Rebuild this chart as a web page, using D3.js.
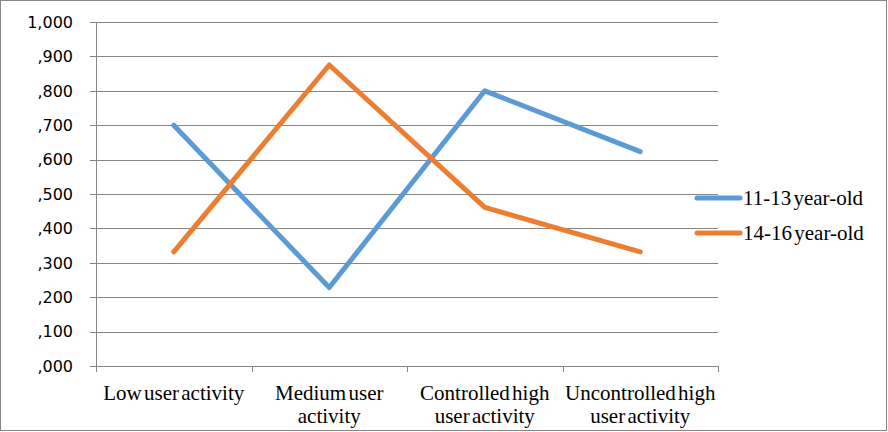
<!DOCTYPE html>
<html>
<head>
<meta charset="utf-8">
<script src="https://cdn.jsdelivr.net/npm/d3@7"></script>
<style>
  body { margin: 0; background: #fff; }
  svg { display: block; }
</style>
</head>
<body>
<svg width="888" height="432"></svg>
<script>
// chart data
var categories = [["Low user activity"], ["Medium user", "activity"], ["Controlled high", "user activity"], ["Uncontrolled high", "user activity"]];
var seriesNames = ["11-13 year-old", "14-16 year-old"];
var youngerValues = [0.700, 0.228, 0.800, 0.623];
var olderValues = [0.332, 0.875, 0.461, 0.332];
var yTicks = [0, 0.1, 0.2, 0.3, 0.4, 0.5, 0.6, 0.7, 0.8, 0.9, 1.0];
var colors = ["#5B9BD5", "#ED7D31"];

var serifFont = "'Liberation Serif', 'Times New Roman', serif";
var svg = d3.select("svg");
var plotLeft = 96, plotRight = 718, plotTop = 22, plotBottom = 366;

// outer frame
svg.append("rect")
    .attr("x", 0.5).attr("y", 0.5)
    .attr("width", 886).attr("height", 430)
    .attr("fill", "none").attr("stroke", "#868686");

var x = d3.scaleBand()
    .domain(d3.range(categories.length))
    .range([plotLeft, plotRight]);

var y = d3.scaleLinear()
    .domain([0, 1])
    .range([plotBottom, plotTop]);

function fmt(v) {
    if (v >= 1) return "1,000";
    return "," + d3.format("03d")(Math.round(v * 1000));
}

// grid lines
svg.append("g")
    .selectAll("line")
    .data(yTicks)
    .enter()
    .append("line")
    .attr("x1", plotLeft - 6)
    .attr("x2", plotRight)
    .attr("y1", function(d) { return Math.round(y(d)) + 0.5; })
    .attr("y2", function(d) { return Math.round(y(d)) + 0.5; })
    .attr("stroke", "#868686")
    .attr("stroke-width", 1);

// y tick labels
svg.append("g")
    .selectAll("text")
    .data(yTicks)
    .enter()
    .append("text")
    .attr("x", 73)
    .attr("y", function(d) { return y(d); })
    .attr("dy", "0.36em")
    .attr("text-anchor", "end")
    .style("font-family", "'DejaVu Sans', Verdana, sans-serif")
    .style("font-size", "16px")
    .attr("fill", "#000")
    .text(fmt);

// y axis line
svg.append("line")
    .attr("x1", plotLeft + 0.5).attr("x2", plotLeft + 0.5)
    .attr("y1", plotTop).attr("y2", plotBottom + 6)
    .attr("stroke", "#868686");

// x category ticks
svg.append("g")
    .selectAll("line")
    .data(d3.range(categories.length + 1))
    .enter()
    .append("line")
    .attr("x1", function(d) { return Math.round(plotLeft + d * x.bandwidth()) + 0.5; })
    .attr("x2", function(d) { return Math.round(plotLeft + d * x.bandwidth()) + 0.5; })
    .attr("y1", plotBottom)
    .attr("y2", plotBottom + 6)
    .attr("stroke", "#868686");

// category labels
var catLabels = svg.append("g")
    .selectAll("text")
    .data(categories)
    .enter()
    .append("text")
    .attr("text-anchor", "middle")
    .style("font-family", serifFont)
    .style("font-size", "21px")
    .style("word-spacing", "-3px")
    .attr("fill", "#000")
    .attr("transform", function(d, i) {
        return "translate(" + (x(i) + x.bandwidth() / 2) + ",400)";
    });

catLabels.selectAll("tspan")
    .data(function(d) { return d; })
    .enter()
    .append("tspan")
    .attr("x", 0)
    .attr("y", function(d, i) { return i * 23; })
    .text(function(d) { return d; });

// series lines
var line = d3.line()
    .x(function(d, i) { return x(i) + x.bandwidth() / 2; })
    .y(function(d) { return y(d); });

var allSeries = [youngerValues, olderValues];

svg.append("g")
    .selectAll("path")
    .data(allSeries)
    .enter()
    .append("path")
    .attr("d", line)
    .attr("fill", "none")
    .attr("stroke", function(d, i) { return colors[i]; })
    .attr("stroke-width", 5)
    .attr("stroke-linecap", "round")
    .attr("stroke-linejoin", "round");

// legend
var legend = svg.append("g")
    .selectAll("g")
    .data(seriesNames)
    .enter()
    .append("g")
    .attr("transform", function(d, i) { return "translate(697," + (198 + i * 35) + ")"; });

legend.append("line")
    .attr("x1", 0).attr("x2", 43)
    .attr("y1", 0).attr("y2", 0)
    .attr("stroke", function(d, i) { return colors[i]; })
    .attr("stroke-width", 5)
    .attr("stroke-linecap", "round");

legend.append("text")
    .attr("x", 46)
    .attr("y", 0)
    .attr("dy", "0.34em")
    .style("font-family", serifFont)
    .style("font-size", "21px")
    .style("word-spacing", "-3px")
    .attr("fill", "#000")
    .text(function(d) { return d; });
</script>
</body>
</html>
